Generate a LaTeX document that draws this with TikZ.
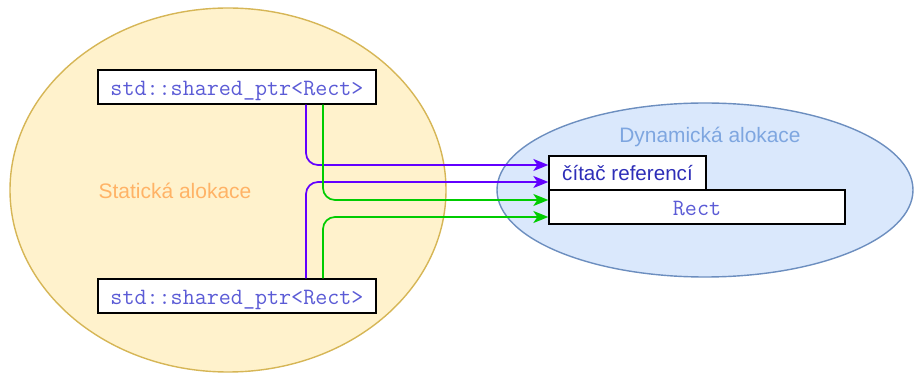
\documentclass[tikz,border=0pt]{standalone}
\usepackage{fontspec}
\setmainfont{Liberation Sans}
\usetikzlibrary{positioning, arrows.meta}

\begin{document}
\begin{tikzpicture}[x=1pt, y=-1pt, font=\fontsize{20.6}{24}\selectfont,
    memcell/.style={draw=black, line width=1.3pt, fill=white, inner sep=0pt},
    codefont/.style={text=monocolor, font=\ttfamily\fontsize{23.4}{26}\selectfont,
        text height=18pt, text depth=0pt},
    ptrcell/.style={memcell, codefont, minimum width=278pt, minimum height=34pt},
    link/.style={line width=1.7pt, rounded corners=12pt,
        -{Stealth[length=15pt, width=12pt, inset=4pt]}}]

    % Define colors (draw.io palette)
    \definecolor{staticfill}{HTML}{FFF2CC}
    \definecolor{staticline}{HTML}{D6B656}
    \definecolor{staticlabel}{HTML}{FFB366}
    \definecolor{dynfill}{HTML}{DAE8FC}
    \definecolor{dynline}{HTML}{6C8EBF}
    \definecolor{dynlabel}{HTML}{7EA6E0}
    \definecolor{monocolor}{HTML}{5B5BD6}
    \definecolor{countcolor}{HTML}{2E2EB8}
    \definecolor{refcolor}{HTML}{6200FF}
    \definecolor{objcolor}{HTML}{00CC00}

    \useasboundingbox (0,0) rectangle (914,374);

    % ===== 1. Memory regions =====
    \filldraw[fill=staticfill, draw=staticline, line width=1.4pt]
        (228,190) ellipse [x radius=218, y radius=182];
    \node[text=staticlabel, font=\fontsize{21}{24}\selectfont]
        (statlabel) at (175,191) {Statická alokace};

    \filldraw[fill=dynfill, draw=dynline, line width=1.4pt]
        (705,190) ellipse [x radius=208, y radius=87];
    \node[text=dynlabel, font=\fontsize{20.9}{24}\selectfont]
        (dynlabel) at (710,137) {Dynamická alokace};

    % ===== 2. Smart pointers on the stack =====
    \node[ptrcell] (ptrA) at (237,87) {std::shared\_ptr<Rect>};
    \node[ptrcell] (ptrB) at (237,296) {std::shared\_ptr<Rect>};

    % ===== 3. Control block + object on the heap =====
    \node[memcell, minimum width=157pt, minimum height=34pt, text=countcolor]
        (counter) at (627.5,173) {čítač referencí};
    \node[memcell, codefont, minimum width=296pt, minimum height=34pt]
        (obj) at (697,207) {Rect};

    % ===== 4. Pointers to counter and object =====
    \draw[link, refcolor] ([xshift=69pt]ptrA.south) |- ([yshift=8pt]counter.west);
    \draw[link, refcolor] ([xshift=69pt]ptrB.north) |- ([yshift=-9pt]counter.west);
    \draw[link, objcolor] ([xshift=86pt]ptrA.south) |- ([yshift=7pt]obj.west);
    \draw[link, objcolor] ([xshift=86pt]ptrB.north) |- ([yshift=-10pt]obj.west);

\end{tikzpicture}
\end{document}
